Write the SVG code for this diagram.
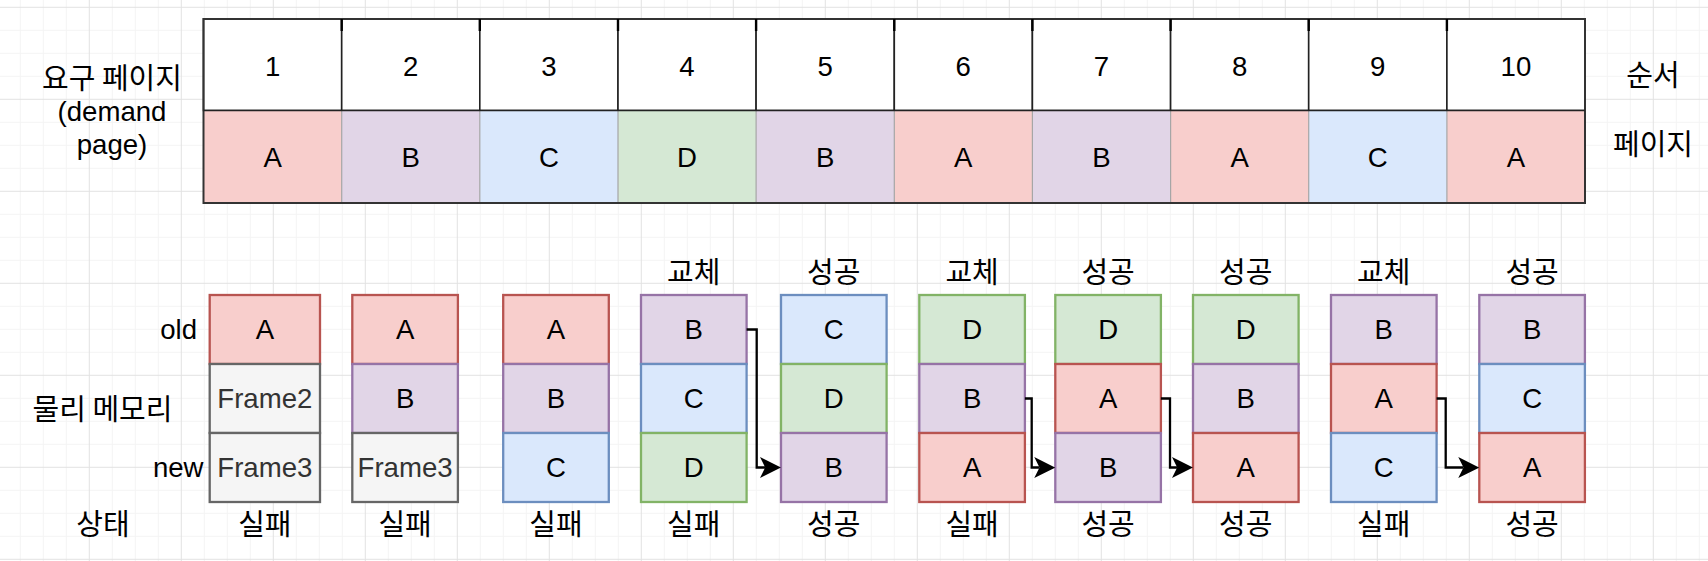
<svg xmlns="http://www.w3.org/2000/svg" width="1708" height="561" viewBox="0 0 1708 561">
<defs>
<pattern id="grid" patternUnits="userSpaceOnUse" x="-3.2" y="6.8" width="92" height="92">
<rect x="23" y="0" width="1" height="92" fill="#f4f4f4"/>
<rect x="46" y="0" width="1" height="92" fill="#f4f4f4"/>
<rect x="69" y="0" width="1" height="92" fill="#f4f4f4"/>
<rect x="0" y="23" width="92" height="1" fill="#f4f4f4"/>
<rect x="0" y="46" width="92" height="1" fill="#f4f4f4"/>
<rect x="0" y="69" width="92" height="1" fill="#f4f4f4"/>
<rect x="0" y="0" width="1" height="92" fill="#e2e2e2"/>
<rect x="0" y="0" width="92" height="1" fill="#e2e2e2"/>
</pattern>
<marker id="arr" viewBox="0 0 21 21" refX="5.25" refY="10.5" markerWidth="21" markerHeight="21" markerUnits="userSpaceOnUse" orient="auto">
<path d="M21,10.5 L0,0 L5.25,10.5 L0,21 Z" fill="#000"/>
</marker>
<style>
.t{font-family:"Liberation Sans",Arial,sans-serif;font-size:27.6px;fill:#000;text-anchor:middle}
.k{font-family:"Noto Sans CJK KR","Liberation Sans",sans-serif;font-size:29px;fill:#000;text-anchor:middle}
.end{text-anchor:end}
.g{fill:#333333}
.A{fill:#f8cecc}
.B{fill:#e1d5e7}
.C{fill:#dae8fc}
.D{fill:#d5e8d4}
.F{fill:#f5f5f5}
.box{stroke-width:2.3}
.box.A{stroke:#b85450}
.box.B{stroke:#9673a6}
.box.C{stroke:#6c8ebf}
.box.D{stroke:#82b366}
.box.F{stroke:#666666}
.hd{fill:#ffffff;stroke:#222222;stroke-width:1.6}
.sep{stroke:#a6a6a6;stroke-width:1.2}
.tick{fill:#000}
.edge{fill:none;stroke:#000;stroke-width:2.3;marker-end:url(#arr)}
</style>
</defs>
<rect x="0" y="0" width="1708" height="561" fill="#ffffff"/>
<rect x="0" y="0" width="1708" height="561" fill="url(#grid)"/>

<g id="table">
<g id="c1"><rect class="hd" x="203.5" y="19" width="138.2" height="91.5"/><text class="t" x="272.6" y="75.5">1</text></g>
<g id="c2"><rect class="hd" x="341.7" y="19" width="138.1" height="91.5"/><text class="t" x="410.7" y="75.5">2</text></g>
<g id="c3"><rect class="hd" x="479.8" y="19" width="138.2" height="91.5"/><text class="t" x="548.9" y="75.5">3</text></g>
<g id="c4"><rect class="hd" x="618" y="19" width="138.1" height="91.5"/><text class="t" x="687" y="75.5">4</text></g>
<g id="c5"><rect class="hd" x="756.1" y="19" width="138.2" height="91.5"/><text class="t" x="825.2" y="75.5">5</text></g>
<g id="c6"><rect class="hd" x="894.3" y="19" width="138.1" height="91.5"/><text class="t" x="963.3" y="75.5">6</text></g>
<g id="c7"><rect class="hd" x="1032.4" y="19" width="138.2" height="91.5"/><text class="t" x="1101.5" y="75.5">7</text></g>
<g id="c8"><rect class="hd" x="1170.6" y="19" width="138.1" height="91.5"/><text class="t" x="1239.6" y="75.5">8</text></g>
<g id="c9"><rect class="hd" x="1308.7" y="19" width="138.2" height="91.5"/><text class="t" x="1377.8" y="75.5">9</text></g>
<g id="c10"><rect class="hd" x="1446.9" y="19" width="138.1" height="91.5"/><text class="t" x="1515.9" y="75.5">10</text></g>

<g id="p1"><rect class="A" x="203.5" y="110.5" width="138.2" height="92.5"/><text class="t" x="272.6" y="167">A</text></g>
<g id="p2"><rect class="B" x="341.7" y="110.5" width="138.1" height="92.5"/><text class="t" x="410.7" y="167">B</text></g>
<g id="p3"><rect class="C" x="479.8" y="110.5" width="138.2" height="92.5"/><text class="t" x="548.9" y="167">C</text></g>
<g id="p4"><rect class="D" x="618" y="110.5" width="138.1" height="92.5"/><text class="t" x="687" y="167">D</text></g>
<g id="p5"><rect class="B" x="756.1" y="110.5" width="138.2" height="92.5"/><text class="t" x="825.2" y="167">B</text></g>
<g id="p6"><rect class="A" x="894.3" y="110.5" width="138.1" height="92.5"/><text class="t" x="963.3" y="167">A</text></g>
<g id="p7"><rect class="B" x="1032.4" y="110.5" width="138.2" height="92.5"/><text class="t" x="1101.5" y="167">B</text></g>
<g id="p8"><rect class="A" x="1170.6" y="110.5" width="138.1" height="92.5"/><text class="t" x="1239.6" y="167">A</text></g>
<g id="p9"><rect class="C" x="1308.7" y="110.5" width="138.2" height="92.5"/><text class="t" x="1377.8" y="167">C</text></g>
<g id="p10"><rect class="A" x="1446.9" y="110.5" width="138.1" height="92.5"/><text class="t" x="1515.9" y="167">A</text></g>

<g id="table-lines">
<path class="sep" d="M341.7,111 V203 M479.8,111 V203 M618,111 V203 M756.1,111 V203 M894.3,111 V203 M1032.4,111 V203 M1170.6,111 V203 M1308.7,111 V203 M1446.9,111 V203"/>
<rect x="203.5" y="19" width="1381.5" height="184" fill="none" stroke="#333333" stroke-width="2"/>
<line x1="203.5" y1="110.5" x2="1585" y2="110.5" stroke="#222222" stroke-width="1.6"/>
<rect class="tick" x="340.5" y="19" width="2.4" height="12"/>
<rect class="tick" x="478.6" y="19" width="2.4" height="12"/>
<rect class="tick" x="616.8" y="19" width="2.4" height="12"/>
<rect class="tick" x="754.9" y="19" width="2.4" height="12"/>
<rect class="tick" x="893.1" y="19" width="2.4" height="12"/>
<rect class="tick" x="1031.2" y="19" width="2.4" height="12"/>
<rect class="tick" x="1169.4" y="19" width="2.4" height="12"/>
<rect class="tick" x="1307.5" y="19" width="2.4" height="12"/>
<rect class="tick" x="1445.7" y="19" width="2.4" height="12"/>
</g>
</g>

<g id="label-demand"><text class="k" x="112" y="88.5">요구 페이지</text><text class="t" x="112" y="121">(demand</text><text class="t" x="112" y="154">page)</text></g>
<g id="label-order"><text class="k" x="1653" y="86">순서</text></g>
<g id="label-page"><text class="k" x="1653" y="155">페이지</text></g>

<g id="label-old"><text class="t end" x="197" y="339.3">old</text></g>
<g id="label-mem"><text class="k" x="102.5" y="420">물리 메모리</text></g>
<g id="label-new"><text class="t end" x="203.5" y="476.7">new</text></g>
<g id="label-state"><text class="k" x="103" y="535">상태</text></g>

<g id="stack1">
<g id="s1-1"><rect class="box A" x="209.7" y="295" width="110.3" height="69"/><text class="t" x="264.85" y="339.4">A</text></g>
<g id="s1-2"><rect class="box F" x="209.7" y="364" width="110.3" height="69"/><text class="t g" x="264.85" y="408.4">Frame2</text></g>
<g id="s1-3"><rect class="box F" x="209.7" y="433" width="110.3" height="69"/><text class="t g" x="264.85" y="477.4">Frame3</text></g>
<text class="k" x="264.85" y="535">실패</text>
</g>
<g id="stack2">
<g id="s2-1"><rect class="box A" x="352.3" y="295" width="105.6" height="69"/><text class="t" x="405.1" y="339.4">A</text></g>
<g id="s2-2"><rect class="box B" x="352.3" y="364" width="105.6" height="69"/><text class="t" x="405.1" y="408.4">B</text></g>
<g id="s2-3"><rect class="box F" x="352.3" y="433" width="105.6" height="69"/><text class="t g" x="405.1" y="477.4">Frame3</text></g>
<text class="k" x="405.1" y="535">실패</text>
</g>
<g id="stack3">
<g id="s3-1"><rect class="box A" x="503.2" y="295" width="105.6" height="69"/><text class="t" x="556" y="339.4">A</text></g>
<g id="s3-2"><rect class="box B" x="503.2" y="364" width="105.6" height="69"/><text class="t" x="556" y="408.4">B</text></g>
<g id="s3-3"><rect class="box C" x="503.2" y="433" width="105.6" height="69"/><text class="t" x="556" y="477.4">C</text></g>
<text class="k" x="556" y="535">실패</text>
</g>
<g id="stack4">
<text class="k" x="693.8" y="282.5">교체</text>
<g id="s4-1"><rect class="box B" x="641" y="295" width="105.6" height="69"/><text class="t" x="693.8" y="339.4">B</text></g>
<g id="s4-2"><rect class="box C" x="641" y="364" width="105.6" height="69"/><text class="t" x="693.8" y="408.4">C</text></g>
<g id="s4-3"><rect class="box D" x="641" y="433" width="105.6" height="69"/><text class="t" x="693.8" y="477.4">D</text></g>
<text class="k" x="693.8" y="535">실패</text>
</g>
<g id="stack5">
<text class="k" x="833.8" y="282.5">성공</text>
<g id="s5-1"><rect class="box C" x="781" y="295" width="105.6" height="69"/><text class="t" x="833.8" y="339.4">C</text></g>
<g id="s5-2"><rect class="box D" x="781" y="364" width="105.6" height="69"/><text class="t" x="833.8" y="408.4">D</text></g>
<g id="s5-3"><rect class="box B" x="781" y="433" width="105.6" height="69"/><text class="t" x="833.8" y="477.4">B</text></g>
<text class="k" x="833.8" y="535">성공</text>
</g>
<g id="stack6">
<text class="k" x="972.1" y="282.5">교체</text>
<g id="s6-1"><rect class="box D" x="919.3" y="295" width="105.6" height="69"/><text class="t" x="972.1" y="339.4">D</text></g>
<g id="s6-2"><rect class="box B" x="919.3" y="364" width="105.6" height="69"/><text class="t" x="972.1" y="408.4">B</text></g>
<g id="s6-3"><rect class="box A" x="919.3" y="433" width="105.6" height="69"/><text class="t" x="972.1" y="477.4">A</text></g>
<text class="k" x="972.1" y="535">실패</text>
</g>
<g id="stack7">
<text class="k" x="1108.1" y="282.5">성공</text>
<g id="s7-1"><rect class="box D" x="1055.3" y="295" width="105.6" height="69"/><text class="t" x="1108.1" y="339.4">D</text></g>
<g id="s7-2"><rect class="box A" x="1055.3" y="364" width="105.6" height="69"/><text class="t" x="1108.1" y="408.4">A</text></g>
<g id="s7-3"><rect class="box B" x="1055.3" y="433" width="105.6" height="69"/><text class="t" x="1108.1" y="477.4">B</text></g>
<text class="k" x="1108.1" y="535">성공</text>
</g>
<g id="stack8">
<text class="k" x="1245.8" y="282.5">성공</text>
<g id="s8-1"><rect class="box D" x="1193" y="295" width="105.6" height="69"/><text class="t" x="1245.8" y="339.4">D</text></g>
<g id="s8-2"><rect class="box B" x="1193" y="364" width="105.6" height="69"/><text class="t" x="1245.8" y="408.4">B</text></g>
<g id="s8-3"><rect class="box A" x="1193" y="433" width="105.6" height="69"/><text class="t" x="1245.8" y="477.4">A</text></g>
<text class="k" x="1245.8" y="535">성공</text>
</g>
<g id="stack9">
<text class="k" x="1383.8" y="282.5">교체</text>
<g id="s9-1"><rect class="box B" x="1331" y="295" width="105.6" height="69"/><text class="t" x="1383.8" y="339.4">B</text></g>
<g id="s9-2"><rect class="box A" x="1331" y="364" width="105.6" height="69"/><text class="t" x="1383.8" y="408.4">A</text></g>
<g id="s9-3"><rect class="box C" x="1331" y="433" width="105.6" height="69"/><text class="t" x="1383.8" y="477.4">C</text></g>
<text class="k" x="1383.8" y="535">실패</text>
</g>
<g id="stack10">
<text class="k" x="1532.1" y="282.5">성공</text>
<g id="s10-1"><rect class="box B" x="1479.3" y="295" width="105.6" height="69"/><text class="t" x="1532.1" y="339.4">B</text></g>
<g id="s10-2"><rect class="box C" x="1479.3" y="364" width="105.6" height="69"/><text class="t" x="1532.1" y="408.4">C</text></g>
<g id="s10-3"><rect class="box A" x="1479.3" y="433" width="105.6" height="69"/><text class="t" x="1532.1" y="477.4">A</text></g>
<text class="k" x="1532.1" y="535">성공</text>
</g>

<g id="connectors">
<path class="edge" d="M746.6,329.5 H756.7 V467.5 H765.2"/>
<path class="edge" d="M1024.9,398.5 H1031.7 V467.5 H1039.5"/>
<path class="edge" d="M1160.9,398.5 H1170 V467.5 H1177.2"/>
<path class="edge" d="M1436.6,398.5 H1445.7 V467.5 H1463.5"/>
</g>
</svg>
